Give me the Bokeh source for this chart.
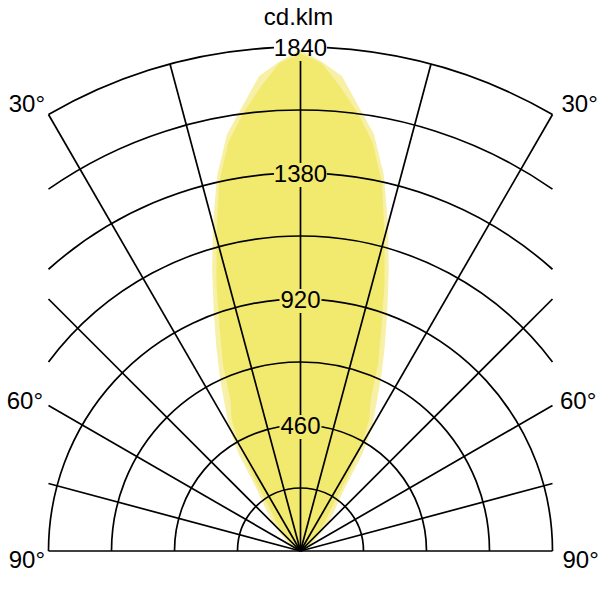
import numpy as np
from bokeh.plotting import figure
from bokeh.models import Range1d
from bokeh.embed import file_html
from bokeh.resources import INLINE
from bokeh.core.properties import value

# ---------------- data ----------------
UNIT_LABEL = "cd.klm"
RING_STEP = 230
RING_MAX = 1840
LABELLED_RINGS = [460, 920, 1380, 1840]
SPOKE_ANGLES = [-90, -75, -60, -45, -30, -15, 0, 15, 30, 45, 60, 75, 90]
ANGLE_TICKS = [30, 60, 90]
ANGLE_TICK_LABELS = ["30°", "60°", "90°"]

# luminous intensity (cd/klm) vs angle from nadir (degrees)
GAMMA = [0, 2.5, 5, 7.5, 10, 12.5, 15, 17.5, 20, 22.5, 25, 27.5, 30, 32.5,
         35, 37.5, 40, 45, 50, 55, 60, 70, 80, 90]
I_OUTER = [1830, 1788, 1740, 1635, 1545, 1405, 1235, 1072, 925, 802, 695, 597,
           523, 420, 285, 228, 195, 140, 90, 55, 35, 15, 5, 0]
I_INNER = [1815, 1782, 1698, 1610, 1515, 1375, 1185, 1020, 862, 740, 604, 545,
           450, 320, 210, 165, 135, 90, 60, 40, 25, 10, 3, 0]

# ---------------- layout ----------------
W = H = 600
K = 504 / RING_MAX          # pixels per cd/klm
CX, CY = 300, 550.5         # pole position inside canvas (px)
HALF = RING_MAX / 2         # half width of the diagram box (data units)
FONT = value("Liberation Sans")
FS = "24px"
BASE = -9.5                 # baseline correction of the svg text (px)

x0 = -CX / K
x1 = (W - CX) / K
y1 = CY / K
y0 = y1 - H / K

p = figure(width=W, height=H, x_range=Range1d(x0, x1), y_range=Range1d(y0, y1),
           output_backend="svg", toolbar_location=None, min_border=0,
           x_axis_location=None, y_axis_location=None)
p.grid.visible = False
p.outline_line_color = None
p.background_fill_color = "white"
p.border_fill_color = "white"


def curve(vals):
    g = np.radians(np.array(GAMMA, dtype=float))
    v = np.array(vals, dtype=float)
    ang = np.concatenate([-g[::-1], g[1:]])
    iv = np.concatenate([v[::-1], v[1:]])
    return list(iv * np.sin(ang)) + [0.0], list(iv * np.cos(ang)) + [0.0]


xo, yo = curve(I_OUTER)
xi, yi = curve(I_INNER)
p.patch(xo, yo, fill_color="#F7F0A6", line_color=None)
p.patch(xi, yi, fill_color="#F2E96F", line_color=None)

LW = 1.7
# ---- rings ----
ax, ay, ar, a0, a1 = [], [], [], [], []
for r in range(RING_STEP, RING_MAX + 1, RING_STEP):
    phi_max = np.pi / 2 if r <= HALF else np.arcsin(HALF / r)
    if r in LABELLED_RINGS:
        n = len(str(r))
        gap = (5.5 * n + 4.5) / K
        phi_gap = np.arcsin(min(gap / r, 1.0))
        spans = [(np.pi / 2 - phi_max, np.pi / 2 - phi_gap),
                 (np.pi / 2 + phi_gap, np.pi / 2 + phi_max)]
    else:
        spans = [(np.pi / 2 - phi_max, np.pi / 2 + phi_max)]
    for s, e in spans:
        ax.append(0); ay.append(0); ar.append(r); a0.append(s); a1.append(e)
p.arc(x=ax, y=ay, radius=ar, start_angle=a0, end_angle=a1,
      line_color="black", line_width=LW)

# ---- spokes ----
sx0, sy0, sx1, sy1 = [], [], [], []
for a in SPOKE_ANGLES:
    t = np.radians(a)
    if a == 0:
        lo = 0.0
        for r in LABELLED_RINGS:
            sx0.append(0); sy0.append(lo); sx1.append(0); sy1.append(r - 14 / K)
            lo = r + 10 / K
        continue
    L = min(RING_MAX, HALF / abs(np.sin(t)))
    sx0.append(0); sy0.append(0)
    sx1.append(L * np.sin(t)); sy1.append(L * np.cos(t))
p.segment(x0=sx0, y0=sy0, x1=sx1, y1=sy1, line_color="black", line_width=LW)

# ---- ring labels ----
p.text(x=[0] * len(LABELLED_RINGS), y=LABELLED_RINGS,
       text=[str(r) for r in LABELLED_RINGS], text_font=FONT, text_font_size=FS,
       text_align="center", text_baseline="alphabetic", y_offset=10 + BASE,
       text_color="black")

# ---- unit label ----
p.text(x=[0], y=[RING_MAX], text=[UNIT_LABEL], text_font=FONT, text_font_size=FS,
       text_align="center", text_baseline="alphabetic", x_offset=-2,
       y_offset=-21.5 + BASE, text_color="black")

# ---- angle labels ----
yoffs = {30: -1.5, 60: 4, 90: 17.5}
xl = {30: -3.5, 60: -5.5, 90: -3.5}
xr = {30: 9, 60: 7.5, 90: 10}
for a, lab in zip(ANGLE_TICKS, ANGLE_TICK_LABELS):
    t = np.radians(a)
    L = min(RING_MAX, HALF / abs(np.sin(t)))
    ex, ey = L * np.sin(t), L * np.cos(t)
    p.text(x=[-ex], y=[ey], text=[lab], text_font=FONT, text_font_size=FS,
           text_align="right", text_baseline="alphabetic", x_offset=xl[a],
           y_offset=yoffs[a] + BASE, text_color="black")
    p.text(x=[ex], y=[ey], text=[lab], text_font=FONT, text_font_size=FS,
           text_align="left", text_baseline="alphabetic", x_offset=xr[a],
           y_offset=yoffs[a] + BASE, text_color="black")

open("out.html", "w").write(file_html(p, INLINE))
